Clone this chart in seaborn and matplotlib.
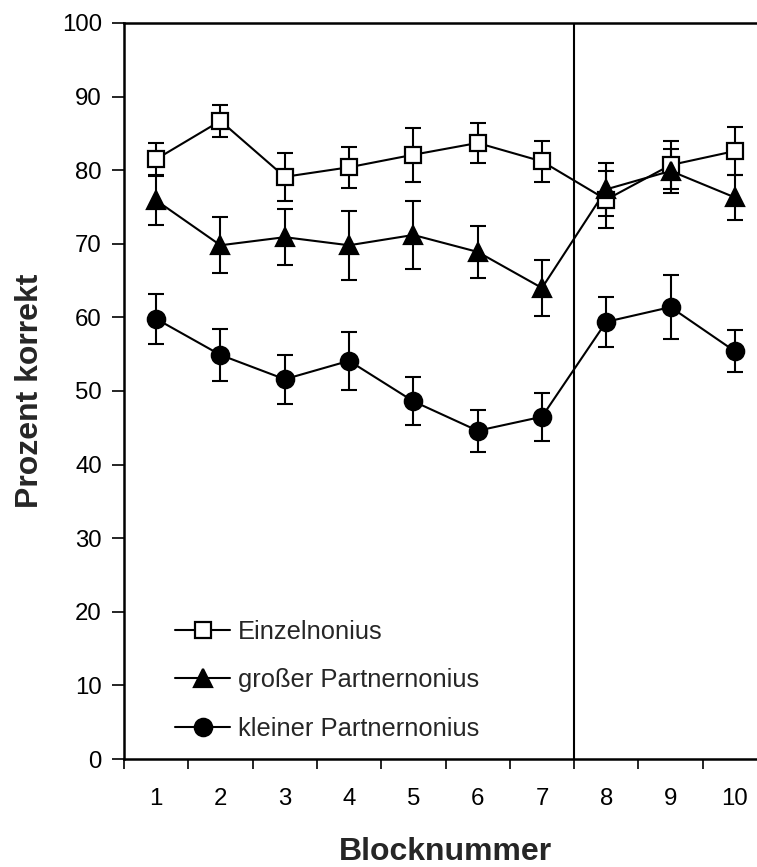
import numpy as np
import pandas as pd
import matplotlib
matplotlib.use("Agg")
import matplotlib.pyplot as plt
import seaborn as sns

# Block numbers and mean percent correct per condition, with error bar half-widths
blocks = [1, 2, 3, 4, 5, 6, 7, 8, 9, 10]
einzel = [81.5, 86.7, 79.1, 80.4, 82.1, 83.7, 81.2, 76.0, 80.7, 82.6]
einzel_err = [2.2, 2.2, 3.3, 2.8, 3.7, 2.7, 2.8, 3.9, 3.3, 3.3]
gross = [75.9, 69.8, 70.9, 69.8, 71.2, 68.9, 64.0, 77.4, 79.9, 76.3]
gross_err = [3.3, 3.8, 3.8, 4.7, 4.6, 3.5, 3.8, 3.6, 3.0, 3.0]
klein = [59.8, 54.9, 51.6, 54.1, 48.6, 44.6, 46.5, 59.4, 61.4, 55.4]
klein_err = [3.4, 3.5, 3.3, 3.95, 3.25, 2.85, 3.25, 3.4, 4.35, 2.85]

series_names = ["Einzelnonius", "großer Partnernonius", "kleiner Partnernonius"]
y_ticks = [0, 10, 20, 30, 40, 50, 60, 70, 80, 90, 100]
x_label = "Blocknummer"
y_label = "Prozent korrekt"

df = pd.DataFrame({
    "Block": blocks * 3,
    "Prozent": einzel + gross + klein,
    "Fehler": einzel_err + gross_err + klein_err,
    "Bedingung": [series_names[0]] * 10 + [series_names[1]] * 10 + [series_names[2]] * 10,
})

sns.set_theme(style="white")
plt.rcParams["font.family"] = ["Liberation Sans", "DejaVu Sans"]

fig = plt.figure(figsize=(7.57, 8.67), dpi=100)
ax = fig.add_axes([124 / 757, 108 / 867, 643 / 757, 736 / 867])

styles = {
    series_names[0]: dict(marker="s", ms=11.5, mfc="white"),
    series_names[1]: dict(marker="^", ms=13, mfc="black"),
    series_names[2]: dict(marker="o", ms=12.5, mfc="black"),
}

# error bars first, behind the markers
for name, grp in df.groupby("Bedingung", sort=False):
    ax.errorbar(grp["Block"], grp["Prozent"], yerr=grp["Fehler"], fmt="none",
                ecolor="black", elinewidth=1.5, capsize=6, capthick=1.5, zorder=2)

sns.lineplot(data=df, x="Block", y="Prozent", hue="Bedingung", style="Bedingung",
             palette=["black"] * 3, markers=False, dashes=False, lw=1.5,
             legend=False, ax=ax, zorder=3)

handles = []
for name, grp in df.groupby("Bedingung", sort=False):
    st = styles[name]
    ax.plot(grp["Block"], grp["Prozent"], ls="none", marker=st["marker"], ms=st["ms"],
            mfc=st["mfc"], mec="black", mew=1.6, zorder=4)
    h, = ax.plot([], [], color="black", lw=1.5, marker=st["marker"], ms=st["ms"],
                 mfc=st["mfc"], mec="black", mew=1.6)
    handles.append(h)

# separator between block 7 and block 8
ax.axvline(7.5, color="black", lw=1.5, zorder=1)

ax.set_xlim(0.5, 10.5)
ax.set_ylim(0, 100)
ax.set_yticks(y_ticks)
ax.set_xticks(blocks)
ax.set_xticks(np.arange(0.5, 11, 1.0), minor=True)
ax.tick_params(axis="x", which="major", length=0, pad=21, labelsize=17.3, colors="black")
ax.tick_params(axis="x", which="minor", length=7, width=1.2, direction="out",
               color="black", bottom=True)
ax.tick_params(axis="y", which="major", length=9, width=1.2, direction="out", pad=7,
               labelsize=17.3, colors="black", left=True)

for side in ["left", "bottom", "top", "right"]:
    ax.spines[side].set_visible(True)
    ax.spines[side].set_color("black")
    ax.spines[side].set_linewidth(1.8)

ax.set_xlabel(x_label, fontsize=23, fontweight="bold", va="center")
ax.set_ylabel(y_label, fontsize=23, fontweight="bold", va="center")
ax.xaxis.set_label_coords(0.5, -93 / 736)
ax.yaxis.set_label_coords(-94 / 643, 0.5)

ax.legend(handles, series_names, loc="lower left", bbox_to_anchor=(0.0635, 0.011),
          frameon=False, fontsize=18.4, handlelength=2.15, handletextpad=0.31,
          labelspacing=0.95, borderaxespad=0)

fig.savefig("out.png", dpi=100)
